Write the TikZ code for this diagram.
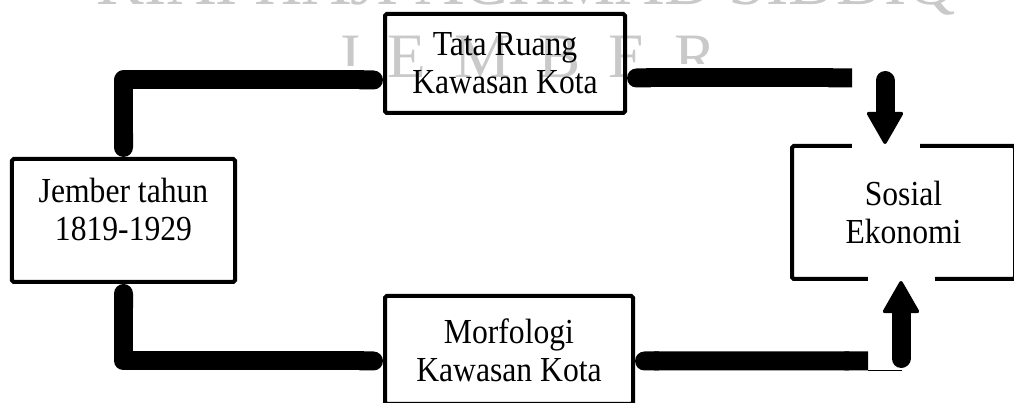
\documentclass[tikz,border=0pt]{standalone}
\usepackage{fontspec}
\setmainfont{Liberation Serif}
\newfontfamily\boxfont{Liberation Serif}[FakeStretch=0.9]
\usetikzlibrary{arrows.meta}
\usetikzlibrary{calc}

\tikzset{
  box/.style={draw, line width=0.08cm, rounded corners=1pt, align=center, inner sep=0pt,
    font=\boxfont\fontsize{20pt}{21.6pt}\selectfont},
  bar/.style={line width=0.38cm, line cap=butt, line join=round,
    preaction={draw=white, line width=0.54cm}},
  bigarrow/.style={line width=0.38cm, line cap=round,
    -{Triangle[width=0.76cm, length=0.68cm, line width=2pt, round]}},
  gap/.style={draw=white, line width=0.2cm},
  wmark/.style={text=black!21, inner sep=0pt, anchor=base}
}

\begin{document}
\begin{tikzpicture}
					\useasboundingbox (0,0) rectangle (20.28,8.06);
					\clip (0,0) rectangle (20.28,8.06);
					% watermark
					\node[wmark, font=\fontsize{38pt}{40pt}\selectfont] (wmtop) at (10.52,7.96) {KIAI HAJI ACHMAD SIDDIQ};
					\node[wmark, font=\fontsize{36pt}{40pt}\selectfont] (wmcity) at (10.52,6.50) {J\hspace{0.44em}E\hspace{0.44em}M\hspace{0.44em}B\hspace{0.44em}E\hspace{0.44em}R};
					% boxes
					\node[box, minimum width=4.80cm, minimum height=1.98cm] (tata) at (10.10,6.79) {Tata Ruang\\Kawasan Kota};
					\node[box, minimum width=4.46cm, minimum height=2.46cm, text depth=0.45cm] (jember) at (2.47,3.65) {Jember tahun\\1819-1929};
					\node[box, minimum width=4.96cm, minimum height=2.16cm] (morf) at (10.18,1.06) {Morfologi\\Kawasan Kota};
					\node[box, minimum width=4.46cm, minimum height=2.66cm] (sosial) at (18.07,3.81) {Sosial\\Ekonomi};
					% bar ends and arrow starts
					\coordinate (tr) at (17.04,6.50);
					\coordinate (br) at (17.36,0.84);
					\coordinate (dn) at (17.70,6.45);
					\coordinate (up) at (18.02,0.89);
					% draw bars
					\draw[bar, {Round Cap}-{Round Cap}] (jember.north) |- ([yshift=-0.33cm]tata.west);
					\draw[bar, {Round Cap}-{Butt Cap}] ([yshift=-0.29cm]tata.east) -- (tr);
					\draw[bar, {Round Cap}-{Round Cap}] (jember.south) |- ([yshift=-0.22cm]morf.west);
					\draw[bar, {Round Cap}-{Butt Cap}] ([yshift=-0.22cm]morf.east) -- (br);
					\draw[line width=0.6pt] ([yshift=-0.19cm]br) -- ++(0.68,0);
					% add arrows
					\draw[gap] ([xshift=-0.66cm]dn |- sosial.north) -- ([xshift=0.70cm]dn |- sosial.north);
					\draw[gap] ([xshift=-0.66cm]up |- sosial.south) -- ([xshift=0.68cm]up |- sosial.south);
					\draw[bigarrow] (dn) -- (dn |- sosial.north);
					\draw[bigarrow] (up) -- (up |- sosial.south);
\end{tikzpicture}
\end{document}
